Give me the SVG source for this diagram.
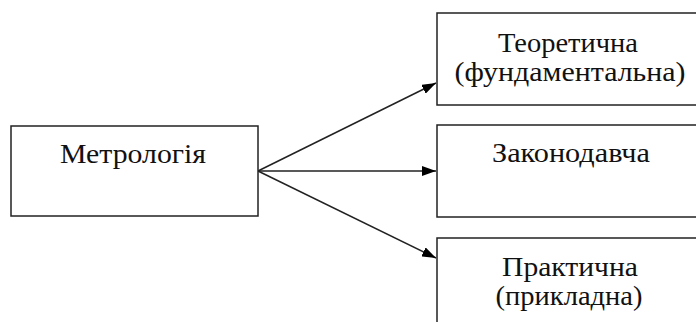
<svg xmlns="http://www.w3.org/2000/svg" width="696" height="322" viewBox="0 0 696 322">
<style>
.box{fill:#fff;stroke:#222;stroke-width:1.5}
.t{font-family:"Liberation Serif","Times New Roman",serif;font-size:28px;fill:#111;text-anchor:middle}
.c{stroke:#222;stroke-width:1.5;fill:none;marker-end:url(#ah)}
</style>
<defs>
<marker id="ah" viewBox="0 0 14 10" refX="14" refY="5" markerWidth="14" markerHeight="10" markerUnits="userSpaceOnUse" orient="auto">
<path d="M0,0 L14,5 L0,10 Z" fill="#000"/>
</marker>
</defs>
<rect width="696" height="322" fill="#fff"/>
<g id="connectors">
<path class="c" d="M258,171 L436,83"/>
<path class="c" d="M258,171 L436,171"/>
<path class="c" d="M258,171 L436,258"/>
</g>
<g id="metrology">
<rect class="box" x="11" y="126" width="247" height="90"/>
<text class="t" x="133" y="163" textLength="146" lengthAdjust="spacingAndGlyphs">Метрологія</text>
</g>
<g id="theoretical">
<rect class="box" x="437" y="13" width="265" height="92"/>
<text class="t" x="568" y="52" textLength="140" lengthAdjust="spacingAndGlyphs">Теоретична</text>
<text class="t" x="570" y="81" textLength="231" lengthAdjust="spacingAndGlyphs">(фундаментальна)</text>
</g>
<g id="legislative">
<rect class="box" x="437" y="125" width="265" height="92"/>
<text class="t" x="571" y="162" textLength="158" lengthAdjust="spacingAndGlyphs">Законодавча</text>
</g>
<g id="practical">
<rect class="box" x="437" y="238" width="265" height="92"/>
<text class="t" x="570" y="276" textLength="136" lengthAdjust="spacingAndGlyphs">Практична</text>
<text class="t" x="569" y="305" textLength="147" lengthAdjust="spacingAndGlyphs">(прикладна)</text>
</g>
</svg>
